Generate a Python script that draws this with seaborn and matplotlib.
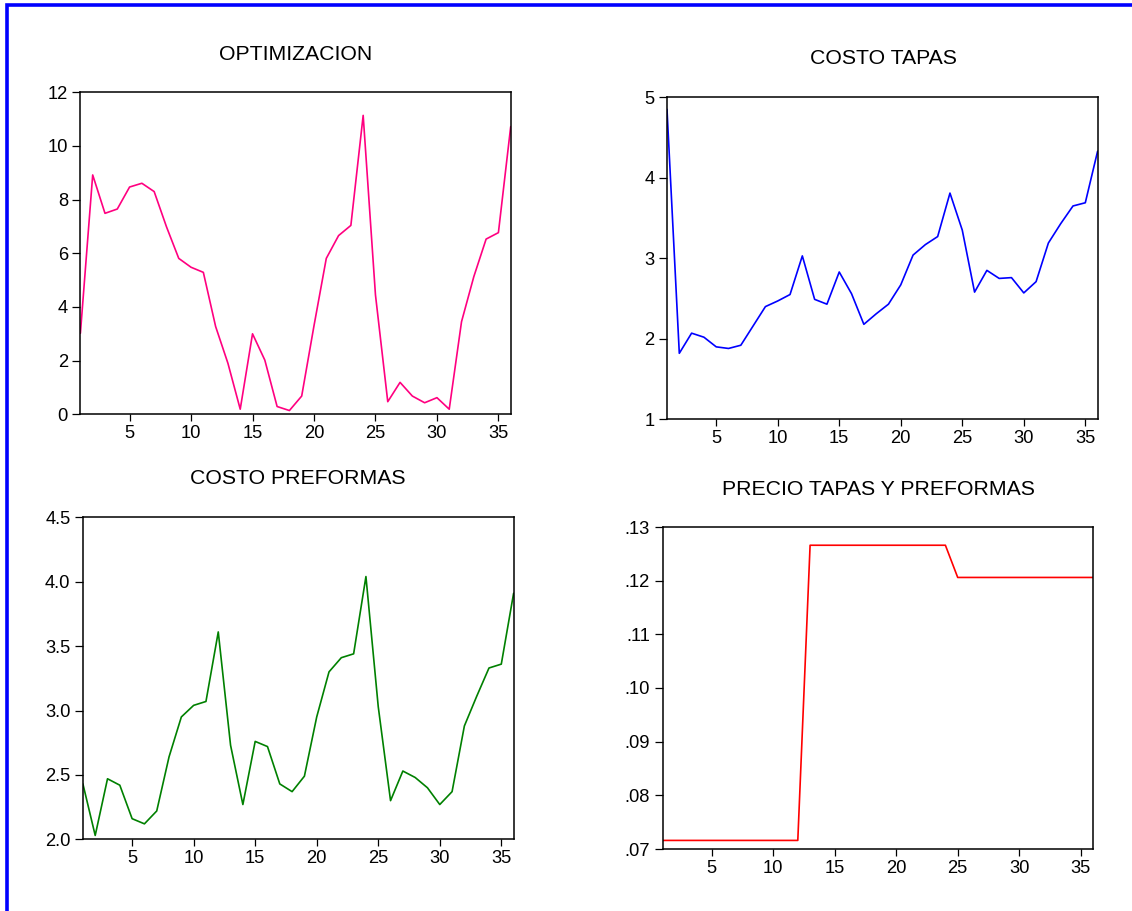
import numpy as np
import pandas as pd
import matplotlib
matplotlib.use("Agg")
import matplotlib.pyplot as plt
from matplotlib.patches import Rectangle
from matplotlib.ticker import FuncFormatter, FixedLocator
import seaborn as sns

# ---------------- data ----------------
periods = list(range(1, 37))

optimizacion = [3.02, 8.92, 7.49, 7.65, 8.47, 8.61, 8.30, 6.99, 5.81, 5.48,
                5.29, 3.27, 1.90, 0.19, 3.00, 2.02, 0.29, 0.14, 0.68, 3.30,
                5.81, 6.66, 7.04, 11.14, 4.45, 0.47, 1.19, 0.68, 0.43, 0.62,
                0.19, 3.45, 5.13, 6.53, 6.77, 10.72]

costo_tapas = [4.85, 1.82, 2.07, 2.02, 1.90, 1.88, 1.92, 2.16, 2.40, 2.47,
               2.55, 3.03, 2.49, 2.43, 2.83, 2.56, 2.18, 2.31, 2.43, 2.67,
               3.04, 3.17, 3.27, 3.81, 3.35, 2.58, 2.85, 2.75, 2.76, 2.57,
               2.71, 3.19, 3.43, 3.65, 3.69, 4.33]

costo_preformas = [2.43, 2.03, 2.47, 2.42, 2.16, 2.12, 2.22, 2.64, 2.95, 3.04,
                   3.07, 3.61, 2.73, 2.27, 2.76, 2.72, 2.43, 2.37, 2.49, 2.95,
                   3.30, 3.41, 3.44, 4.04, 3.03, 2.30, 2.53, 2.48, 2.40, 2.27,
                   2.37, 2.88, 3.11, 3.33, 3.36, 3.91]

precio = [0.0716] * 12 + [0.1266] * 12 + [0.1206] * 12

titles = ["OPTIMIZACION", "COSTO TAPAS", "COSTO PREFORMAS", "PRECIO TAPAS Y PREFORMAS"]
x_ticks = [5, 10, 15, 20, 25, 30, 35]
y_ticks_1 = [0, 2, 4, 6, 8, 10, 12]
y_ticks_2 = [1, 2, 3, 4, 5]
y_ticks_3 = [2.0, 2.5, 3.0, 3.5, 4.0, 4.5]
y_ticks_4 = [0.07, 0.08, 0.09, 0.10, 0.11, 0.12, 0.13]

# ---------------- style ----------------
sns.set_style("white")
plt.rcParams["font.family"] = ["Liberation Sans", "DejaVu Sans"]

W, H = 1132, 911
fig = plt.figure(figsize=(W / 100, H / 100), dpi=100)
fig.patch.set_facecolor("white")

def ax_at(left, top, right, bottom):
    return fig.add_axes([left / W, 1 - bottom / H, (right - left) / W, (bottom - top) / H])

axes_px = [
    (80.4, 92.3, 510.7, 414.3),
    (667.0, 97.3, 1097.6, 419.3),
    (82.9, 517.3, 513.6, 839.3),
    (662.5, 527.0, 1093.0, 849.0),
]
title_px = [(296, 54), (883, 59), (298, 479), (878, 489)]

series = [optimizacion, costo_tapas, costo_preformas, precio]
colors = ["#FF0080", "#0000FF", "#008000", "#FF0000"]
yticks = [y_ticks_1, y_ticks_2, y_ticks_3, y_ticks_4]
ylims = [(0, 12), (1, 5), (2.0, 4.5), (0.07, 0.13)]
fmts = [
    lambda v, p: f"{v:.0f}",
    lambda v, p: f"{v:.0f}",
    lambda v, p: f"{v:.1f}",
    lambda v, p: f"{v:.2f}".lstrip("0"),
]

for i in range(4):
    ax = ax_at(*axes_px[i])
    df = pd.DataFrame({"t": periods, "v": series[i]})
    sns.lineplot(data=df, x="t", y="v", ax=ax, color=colors[i], linewidth=1.2)
    ax.set_xlim(1, 36)
    ax.set_ylim(*ylims[i])
    ax.xaxis.set_major_locator(FixedLocator(x_ticks))
    ax.yaxis.set_major_locator(FixedLocator(yticks[i]))
    ax.yaxis.set_major_formatter(FuncFormatter(fmts[i]))
    ax.set_xlabel("")
    ax.set_ylabel("")
    for s in ax.spines.values():
        s.set_color("black")
        s.set_linewidth(1.1)
    ax.tick_params(axis="y", direction="out", length=5.5, width=0.9, pad=3.5,
                   labelsize=13.2, colors="black", left=True)
    ax.tick_params(axis="x", direction="out", length=5, width=0.9, pad=3,
                   labelsize=13.2, colors="black", bottom=True)
    tx, ty = title_px[i]
    fig.text(tx / W, 1 - ty / H, titles[i], ha="center", va="center",
             fontsize=15.3, color="black")

# blue frame (left and top edges visible)
fig.patches.append(Rectangle((6.5 / W, -0.5), 2.0, 1.5 - 5.3 / H, transform=fig.transFigure,
                             fill=False, edgecolor="#0000FF", linewidth=2.6, figure=fig))

fig.savefig("out.png", dpi=100, facecolor="white")
